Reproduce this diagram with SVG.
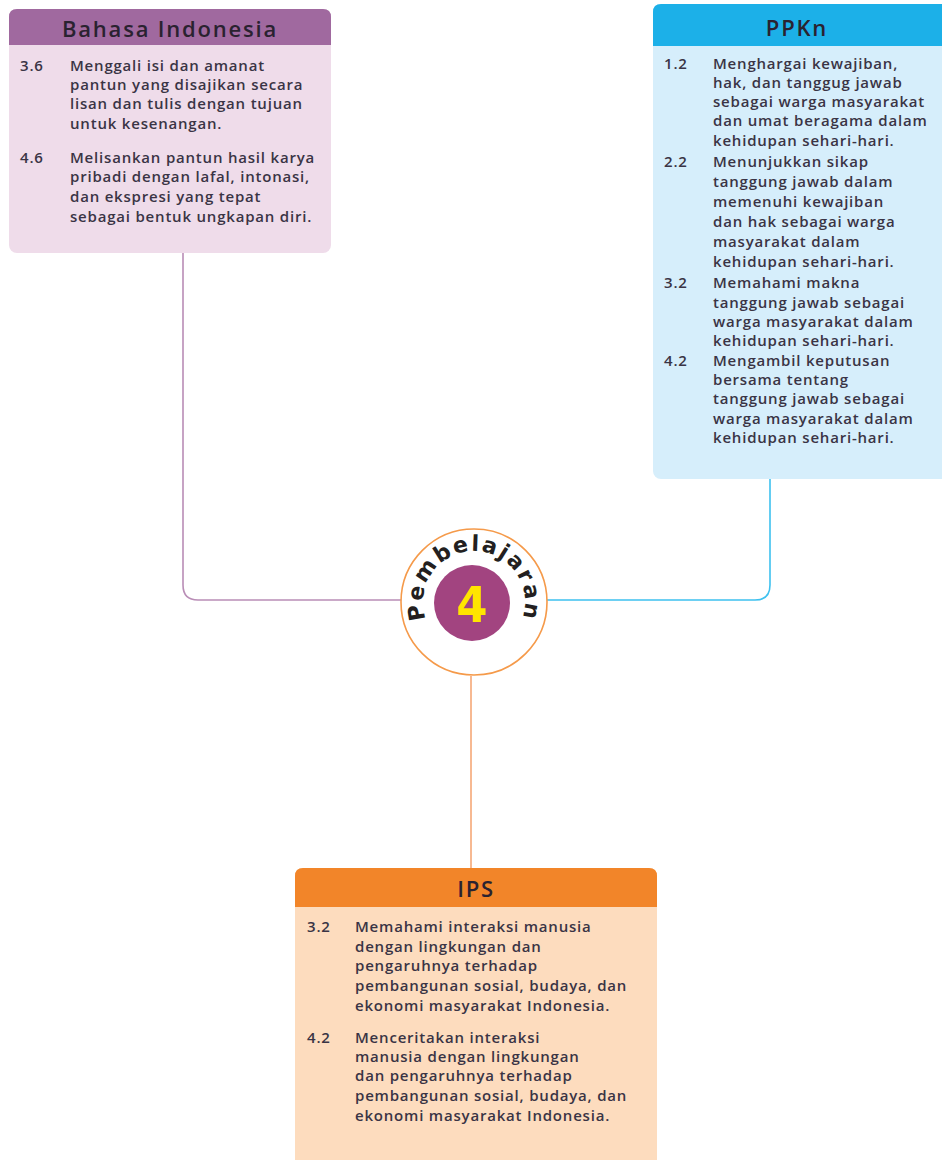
<svg xmlns="http://www.w3.org/2000/svg" width="942" height="1160" viewBox="0 0 942 1160">
<style>
.hd{font-family:"Open Sans","Noto Sans",sans-serif;font-size:22px;font-weight:600;letter-spacing:1.8px;fill:#2a2230;text-anchor:middle}
.tx{font-family:"Open Sans","Noto Sans",sans-serif;font-size:15px;font-weight:600;letter-spacing:0.8px;fill:#3a3445}
.conn{fill:none;stroke-width:1.6}
</style>
<rect width="942" height="1160" fill="#ffffff"/>
<g id="connectors">
<path class="conn" d="M183,253 V585 Q183,600 198,600 H401" stroke="#b98db6"/>
<path class="conn" d="M770,479 V585 Q770,600 755,600 H547" stroke="#3ec1ef"/>
<path class="conn" d="M471,676 V868" stroke="#f5a877"/>
</g>
<g id="bahasa-indonesia">
<rect x="9" y="9" width="322" height="244" rx="8" fill="#efdcea"/>
<path d="M9,45 V17 Q9,9 17,9 H323 Q331,9 331,17 V45 Z" fill="#a0699f"/>
<text class="hd" x="170" y="37">Bahasa Indonesia</text>
<text class="tx" x="20" y="71">3.6</text>
<text class="tx" x="70" y="71">Menggali isi dan amanat</text>
<text class="tx" x="70" y="90">pantun yang disajikan secara</text>
<text class="tx" x="70" y="109">lisan dan tulis dengan tujuan</text>
<text class="tx" x="70" y="129">untuk kesenangan.</text>
<text class="tx" x="20" y="163">4.6</text>
<text class="tx" x="70" y="163">Melisankan pantun hasil karya</text>
<text class="tx" x="70" y="182">pribadi dengan lafal, intonasi,</text>
<text class="tx" x="70" y="202">dan ekspresi yang tepat</text>
<text class="tx" x="70" y="222">sebagai bentuk ungkapan diri.</text>
</g>
<g id="ppkn">
<rect x="653" y="4" width="300" height="475" rx="8" fill="#d6eefb"/>
<path d="M653,46 V12 Q653,4 661,4 H942 V46 Z" fill="#1cb0e8"/>
<text class="hd" x="797" y="36">PPKn</text>
<text class="tx" x="664" y="69">1.2</text>
<text class="tx" x="713" y="69">Menghargai kewajiban,</text>
<text class="tx" x="713" y="88">hak, dan tanggug jawab</text>
<text class="tx" x="713" y="107">sebagai warga masyarakat</text>
<text class="tx" x="713" y="126">dan umat beragama dalam</text>
<text class="tx" x="713" y="146">kehidupan sehari-hari.</text>
<text class="tx" x="664" y="167">2.2</text>
<text class="tx" x="713" y="167">Menunjukkan sikap</text>
<text class="tx" x="713" y="187">tanggung jawab dalam</text>
<text class="tx" x="713" y="207">memenuhi kewajiban</text>
<text class="tx" x="713" y="227">dan hak sebagai warga</text>
<text class="tx" x="713" y="247">masyarakat dalam</text>
<text class="tx" x="713" y="267">kehidupan sehari-hari.</text>
<text class="tx" x="664" y="288">3.2</text>
<text class="tx" x="713" y="288">Memahami makna</text>
<text class="tx" x="713" y="308">tanggung jawab sebagai</text>
<text class="tx" x="713" y="327">warga masyarakat dalam</text>
<text class="tx" x="713" y="346">kehidupan sehari-hari.</text>
<text class="tx" x="664" y="366">4.2</text>
<text class="tx" x="713" y="366">Mengambil keputusan</text>
<text class="tx" x="713" y="385">bersama tentang</text>
<text class="tx" x="713" y="404">tanggung jawab sebagai</text>
<text class="tx" x="713" y="424">warga masyarakat dalam</text>
<text class="tx" x="713" y="443">kehidupan sehari-hari.</text>
</g>
<g id="pembelajaran-4">
<circle cx="474" cy="602" r="73" fill="#ffffff" stroke="#f59a4a" stroke-width="1.6"/>
<circle cx="472" cy="603" r="38" fill="#a24480"/>
<path id="arc" d="M427.8,623.6 A51,51 0 1 1 520.2,623.6" fill="none"/>
<text font-family="'DejaVu Sans',sans-serif" font-weight="bold" font-size="22" fill="#231f20" letter-spacing="2"><textPath href="#arc" startOffset="50%" text-anchor="middle">Pembelajaran</textPath></text>
<text x="472" y="622" font-family="'DejaVu Sans Condensed','DejaVu Sans',sans-serif" font-weight="bold" font-size="50" fill="#ffe500" text-anchor="middle">4</text>
</g>
<g id="ips">
<rect x="295" y="868" width="362" height="300" rx="8" fill="#fddcbe"/>
<path d="M295,907 V876 Q295,868 303,868 H649 Q657,868 657,876 V907 Z" fill="#f28529"/>
<text class="hd" x="476" y="897">IPS</text>
<text class="tx" x="307" y="932">3.2</text>
<text class="tx" x="355" y="932">Memahami interaksi manusia</text>
<text class="tx" x="355" y="952">dengan lingkungan dan</text>
<text class="tx" x="355" y="971">pengaruhnya terhadap</text>
<text class="tx" x="355" y="991">pembangunan sosial, budaya, dan</text>
<text class="tx" x="355" y="1011">ekonomi masyarakat Indonesia.</text>
<text class="tx" x="307" y="1043">4.2</text>
<text class="tx" x="355" y="1043">Menceritakan interaksi</text>
<text class="tx" x="355" y="1062">manusia dengan lingkungan</text>
<text class="tx" x="355" y="1081">dan pengaruhnya terhadap</text>
<text class="tx" x="355" y="1101">pembangunan sosial, budaya, dan</text>
<text class="tx" x="355" y="1121">ekonomi masyarakat Indonesia.</text>
</g>
</svg>
